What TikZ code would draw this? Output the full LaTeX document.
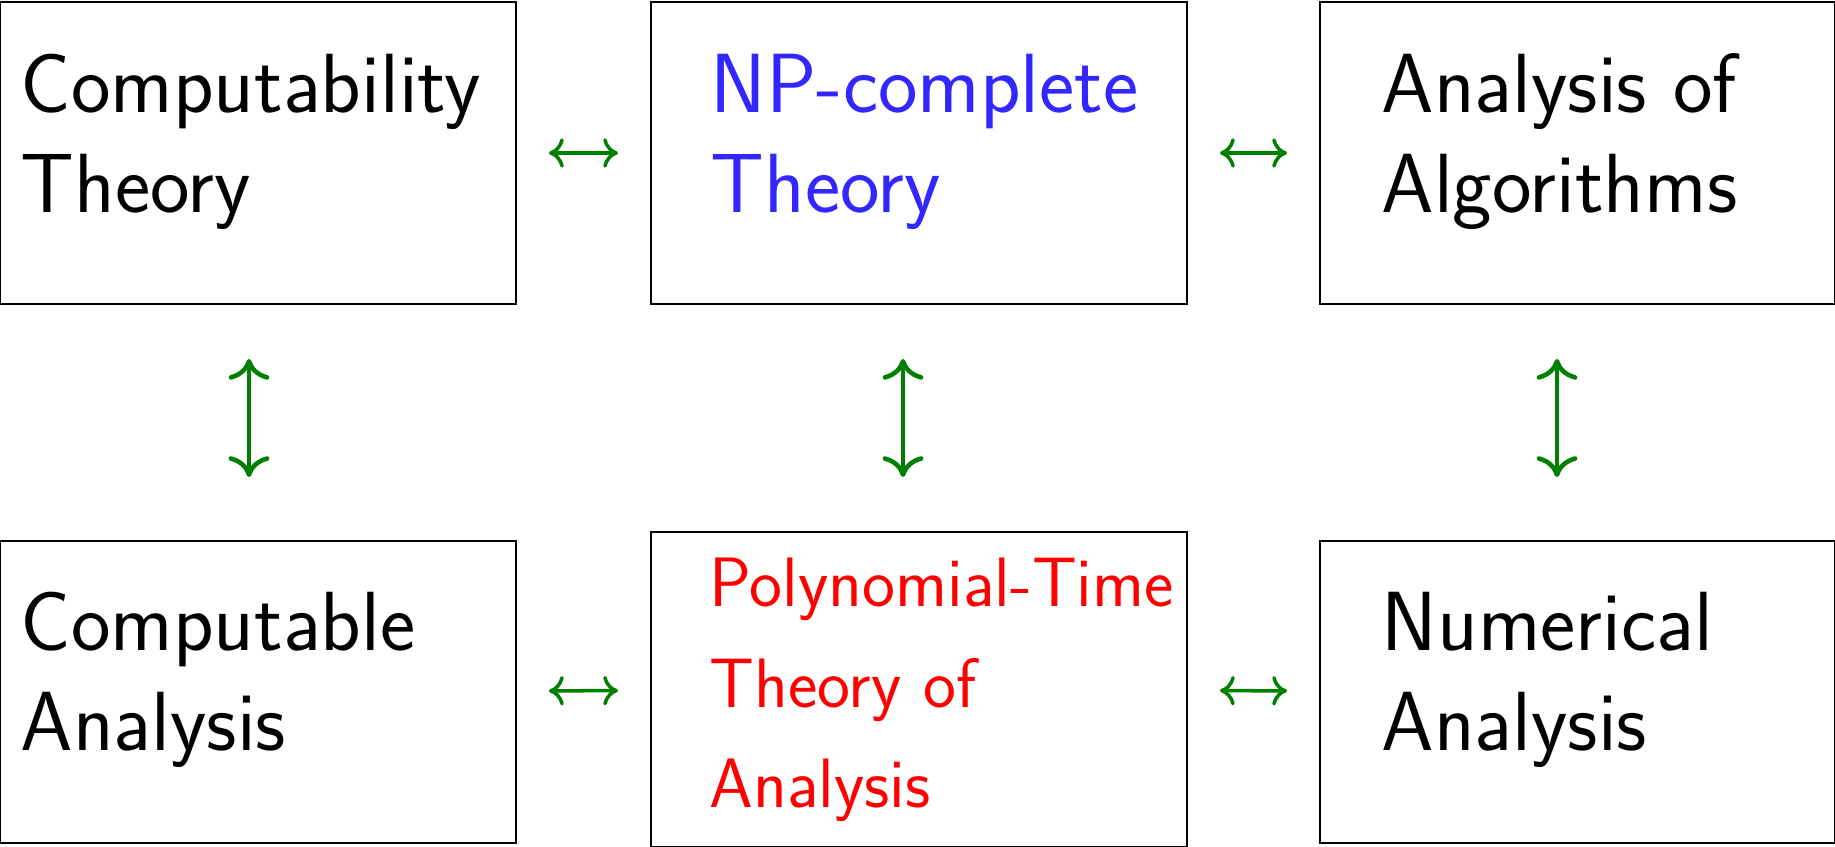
\documentclass[tikz,border=0pt]{standalone}
\usepackage{tikz}
\usetikzlibrary{positioning,arrows.meta}
\usepackage{xcolor}
\definecolor{npblue}{rgb}{0.2,0.15,1}
\definecolor{linkgreen}{rgb}{0,0.5,0}

\begin{document}
\begin{tikzpicture}[node distance=2.37cm and 1.35cm,
  box/.style={draw,line width=0.6pt,outer sep=0pt,inner sep=0pt,minimum height=3.02cm},
  txt/.style={anchor=base west,inner sep=0pt,align=left,font=\fontsize{23.9}{28.45}\selectfont\sffamily},
  small/.style={txt,font=\fontsize{19.9}{28.6}\selectfont\sffamily},
  hlink/.style={linkgreen,line width=1pt,line cap=round,{Computer Modern Rightarrow[length=4.2pt,width=8.4pt]}-{Computer Modern Rightarrow[length=4.2pt,width=8.4pt]},shorten <=0.33cm,shorten >=0.33cm},
  vlink/.style={linkgreen,line width=1.3pt,line cap=round,{Computer Modern Rightarrow[length=5.9pt,width=11.6pt]}-{Computer Modern Rightarrow[length=5.9pt,width=11.6pt]}}]
\useasboundingbox (0,0) rectangle (18.35,8.47);
\node (comp) [box,minimum width=5.16cm,anchor=north west] at (0,8.45) {};
\node (npc) [box,minimum width=5.36cm,right=of comp] {};
\node (alg) [box,minimum width=5.15cm,right=1.33cm of npc] {};
\node (canal) [box,minimum width=5.16cm,below=of comp] {};
\node (ptime) [box,minimum width=5.36cm,minimum height=3.15cm,below=2.28cm of npc] {};
\node (numer) [box,minimum width=5.15cm,below=of alg] {};
\node (t1) [txt] at ([shift={(0.20,-2.11)}]comp.north west) {Computability\\Theory};
\node (t2) [txt,text=npblue] at ([shift={(0.59,-2.11)}]npc.north west) {NP-complete\\Theory};
\node (t3) [txt] at ([shift={(0.61,-2.11)}]alg.north west) {Analysis of\\Algorithms};
\node (t4) [txt] at ([shift={(0.20,-2.10)}]canal.north west) {Computable\\Analysis};
\node (t5) [small,text=red] at ([shift={(0.58,-2.76)}]ptime.north west) {Polynomial-Time\\Theory of\\Analysis};
\node (t6) [txt] at ([shift={(0.61,-2.10)}]numer.north west) {Numerical\\Analysis};
\draw[hlink] (comp) -- (npc);
\draw[hlink] (npc) -- (alg);
\draw[hlink] (canal) -- (ptime);
\draw[hlink] (ptime) -- (numer);
\draw[vlink,shorten <=0.55cm,shorten >=0.64cm] ([xshift=-0.09cm]comp.south) -- ([xshift=-0.09cm]canal.north);
\draw[vlink,shorten <=0.55cm,shorten >=0.55cm] ([xshift=-0.16cm]npc.south) -- ([xshift=-0.16cm]ptime.north);
\draw[vlink,shorten <=0.55cm,shorten >=0.64cm] ([xshift=-0.205cm]alg.south) -- ([xshift=-0.205cm]numer.north);
\end{tikzpicture}
\end{document}
